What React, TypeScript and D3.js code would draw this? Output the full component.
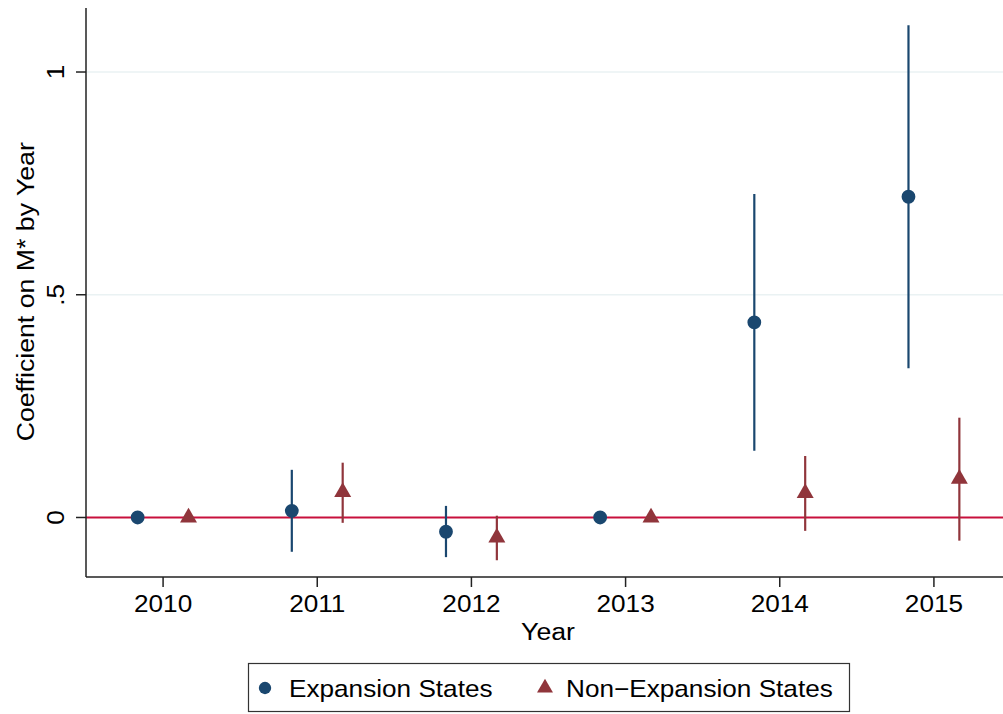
import React from "react";
import * as d3 from "d3";

const years = [2010, 2011, 2012, 2013, 2014, 2015];
const expCoef = [0, 0.015, -0.032, 0, 0.438, 0.72];
const expLo = [null, -0.077, -0.089, null, 0.15, 0.335];
const expHi = [null, 0.107, 0.026, null, 0.726, 1.105];
const nonCoef = [0, 0.057, -0.045, 0, 0.055, 0.087];
const nonLo = [null, -0.012, -0.096, null, -0.03, -0.052];
const nonHi = [null, 0.123, 0.004, null, 0.138, 0.224];
const yTicks = [0, 0.5, 1];
const yTickLabels = ["0", ".5", "1"];
const seriesNames = ["Expansion States", "Non\u2212Expansion States"];

const W = 1003;
const H = 714;
const FONT = "'Liberation Sans', Arial, Helvetica, sans-serif";
const BLUE = "#1a476f";
const RED = "#90353b";
const ZERO = "#c8103c";
const GRID = "#eaf2f3";
const SX = 1.09;

function T(props: { x: number; y: number; rot?: number; size: number; anchor?: string; children: any }) {
  const { x, y, rot, size, anchor, children } = props;
  return (
    <text
      transform={`translate(${x},${y})${rot ? ` rotate(${rot})` : ""} scale(${SX},1)`}
      textAnchor={anchor || "start"}
      fontSize={size}
      fill="#000"
    >
      {children}
    </text>
  );
}

export default function App() {
  const x = d3.scaleLinear().domain([2009.5, 2015.5]).range([86, 1011]);
  const y = d3.scaleLinear().domain([-0.1336, 1.1437]).range([577, 8]);
  const off = 0.165;
  const circle = d3.symbol().type(d3.symbolCircle).size(150)() as string;
  const tri = d3.symbol().type(d3.symbolTriangle).size(125)() as string;
  const circleL = d3.symbol().type(d3.symbolCircle).size(120)() as string;
  const triL = d3.symbol().type(d3.symbolTriangle).size(110)() as string;

  return (
    <svg
      width={W}
      height={H}
      style={{ position: "absolute", left: 0, top: 0, background: "#fff" }}
      fontFamily={FONT}
    >
      <rect x={0} y={0} width={W} height={H} fill="#fff" />
      {yTicks.filter((t) => t !== 0).map((t) => (
        <line key={t} x1={x(2009.5)} x2={W} y1={y(t)} y2={y(t)} stroke={GRID} strokeWidth={1.5} />
      ))}
      <line x1={x(2009.5)} x2={W} y1={y(0)} y2={y(0)} stroke={ZERO} strokeWidth={2} />
      <line x1={86} x2={86} y1={y(1.1437)} y2={y(-0.1336)} stroke="#222" strokeWidth={1.5} />
      <line x1={86} x2={W} y1={577} y2={577} stroke="#222" strokeWidth={1.5} />
      {yTicks.map((t, i) => (
        <g key={t}>
          <line x1={76} x2={86} y1={y(t)} y2={y(t)} stroke="#222" strokeWidth={1.5} />
          <T x={63.5} y={y(t)} rot={-90} size={24} anchor="middle">
            {yTickLabels[i]}
          </T>
        </g>
      ))}
      {years.map((yr) => (
        <g key={yr}>
          <line x1={x(yr)} x2={x(yr)} y1={577} y2={587} stroke="#222" strokeWidth={1.5} />
          <T x={x(yr)} y={611.5} size={24} anchor="middle">
            {yr}
          </T>
        </g>
      ))}
      <T x={548} y={640} size={24.5} anchor="middle">
        Year
      </T>
      <T x={34} y={y(0.5) - 3} rot={-90} size={24.5} anchor="middle">
        Coefficient on M* by Year
      </T>
      {years.map((yr, i) =>
        expLo[i] != null ? (
          <line
            key={"ec" + yr}
            x1={x(yr - off)}
            x2={x(yr - off)}
            y1={y(expLo[i] as number)}
            y2={y(expHi[i] as number)}
            stroke={BLUE}
            strokeWidth={2.2}
          />
        ) : null
      )}
      {years.map((yr, i) =>
        nonLo[i] != null ? (
          <line
            key={"nc" + yr}
            x1={x(yr + off)}
            x2={x(yr + off)}
            y1={y(nonLo[i] as number)}
            y2={y(nonHi[i] as number)}
            stroke={RED}
            strokeWidth={2.2}
          />
        ) : null
      )}
      {years.map((yr, i) => (
        <path key={"ep" + yr} d={circle} transform={`translate(${x(yr - off)},${y(expCoef[i])})`} fill={BLUE} />
      ))}
      {years.map((yr, i) => (
        <path key={"np" + yr} d={tri} transform={`translate(${x(yr + off)},${y(nonCoef[i])})`} fill={RED} />
      ))}
      <rect x={248.5} y={663.5} width={601} height={48} fill="#fff" stroke="#333" strokeWidth={1.2} />
      <path d={circleL} transform="translate(265,688)" fill={BLUE} />
      <T x={289} y={697} size={24}>
        {seriesNames[0]}
      </T>
      <path d={triL} transform="translate(545,688)" fill={RED} />
      <T x={566} y={697} size={24}>
        {seriesNames[1]}
      </T>
    </svg>
  );
}
